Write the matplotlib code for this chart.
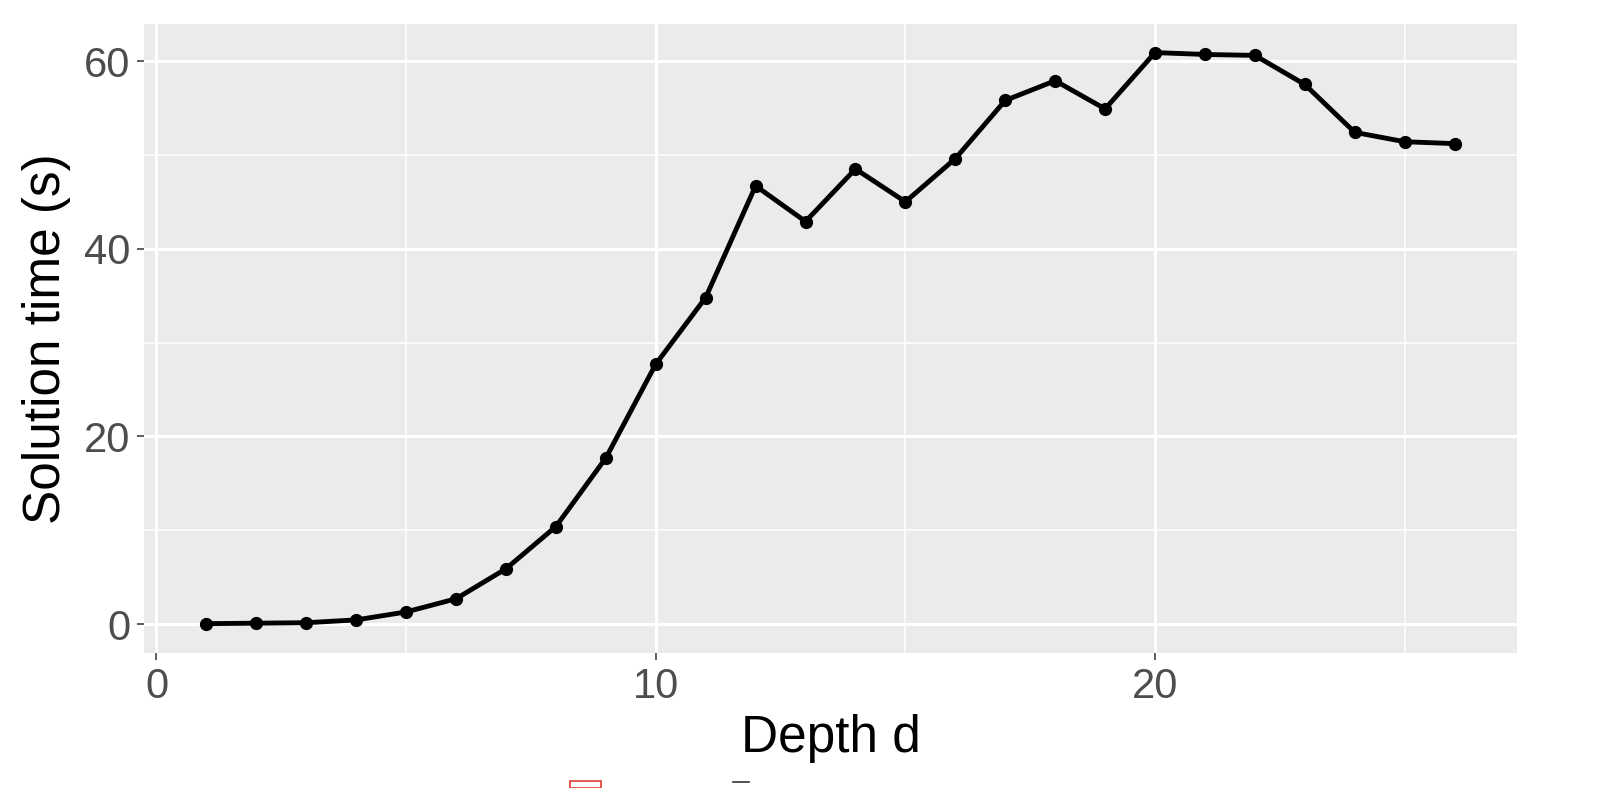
import numpy as np
import matplotlib
matplotlib.use('Agg')
import matplotlib.pyplot as plt
import matplotlib.patches as patches
from matplotlib.lines import Line2D
from matplotlib.ticker import MultipleLocator

# data
depth = list(range(1, 27))
sol_time = [0.05, 0.1, 0.15, 0.45, 1.3, 2.7, 5.9, 10.4, 17.7, 27.7,
            34.8, 46.7, 42.9, 48.5, 45.0, 49.6, 55.8, 57.9, 54.9, 60.9,
            60.7, 60.6, 57.5, 52.4, 51.4, 51.2]

plt.rcParams['font.family'] = ['Liberation Sans', 'DejaVu Sans']

fig = plt.figure(figsize=(15.98, 7.88), dpi=100)
ax = fig.add_axes([144/1598, 1-652.7/788, (1517-144)/1598, (652.7-24)/788])

ax.set_facecolor('#EBEBEB')
for s in ax.spines.values():
    s.set_visible(False)

ax.set_xlim(-0.25, 27.25)
ax.set_ylim(-3.045, 63.945)
ax.xaxis.set_major_locator(MultipleLocator(10))
ax.xaxis.set_minor_locator(MultipleLocator(5))
ax.yaxis.set_major_locator(MultipleLocator(20))
ax.yaxis.set_minor_locator(MultipleLocator(10))

ax.grid(which='major', color='white', linewidth=2.2)
ax.grid(which='minor', color='white', linewidth=1.1)
ax.set_axisbelow(True)

ax.tick_params(which='major', length=5, width=1.1, color='#333333',
               labelsize=30, labelcolor='#4D4D4D', pad=5)
ax.tick_params(which='minor', length=0)

ax.plot(depth, sol_time, color='black', linewidth=3.5, marker='o',
        markersize=8.5, zorder=3)

ax.set_xlabel('Depth d', fontsize=37, labelpad=5)
ax.set_ylabel('Solution time (s)', fontsize=37, labelpad=9)

# small screenshot remnants at the bottom edge
fig.patches.append(patches.Rectangle((570/1598, 0), 31/1598, 7/788,
                                     transform=fig.transFigure, fill=False,
                                     edgecolor='#E03C31', linewidth=1.2))
fig.lines.append(Line2D([733/1598, 749/1598], [6/788, 6/788],
                        transform=fig.transFigure, color='#333333', linewidth=1.2))

fig.savefig('out.png', dpi=100)
